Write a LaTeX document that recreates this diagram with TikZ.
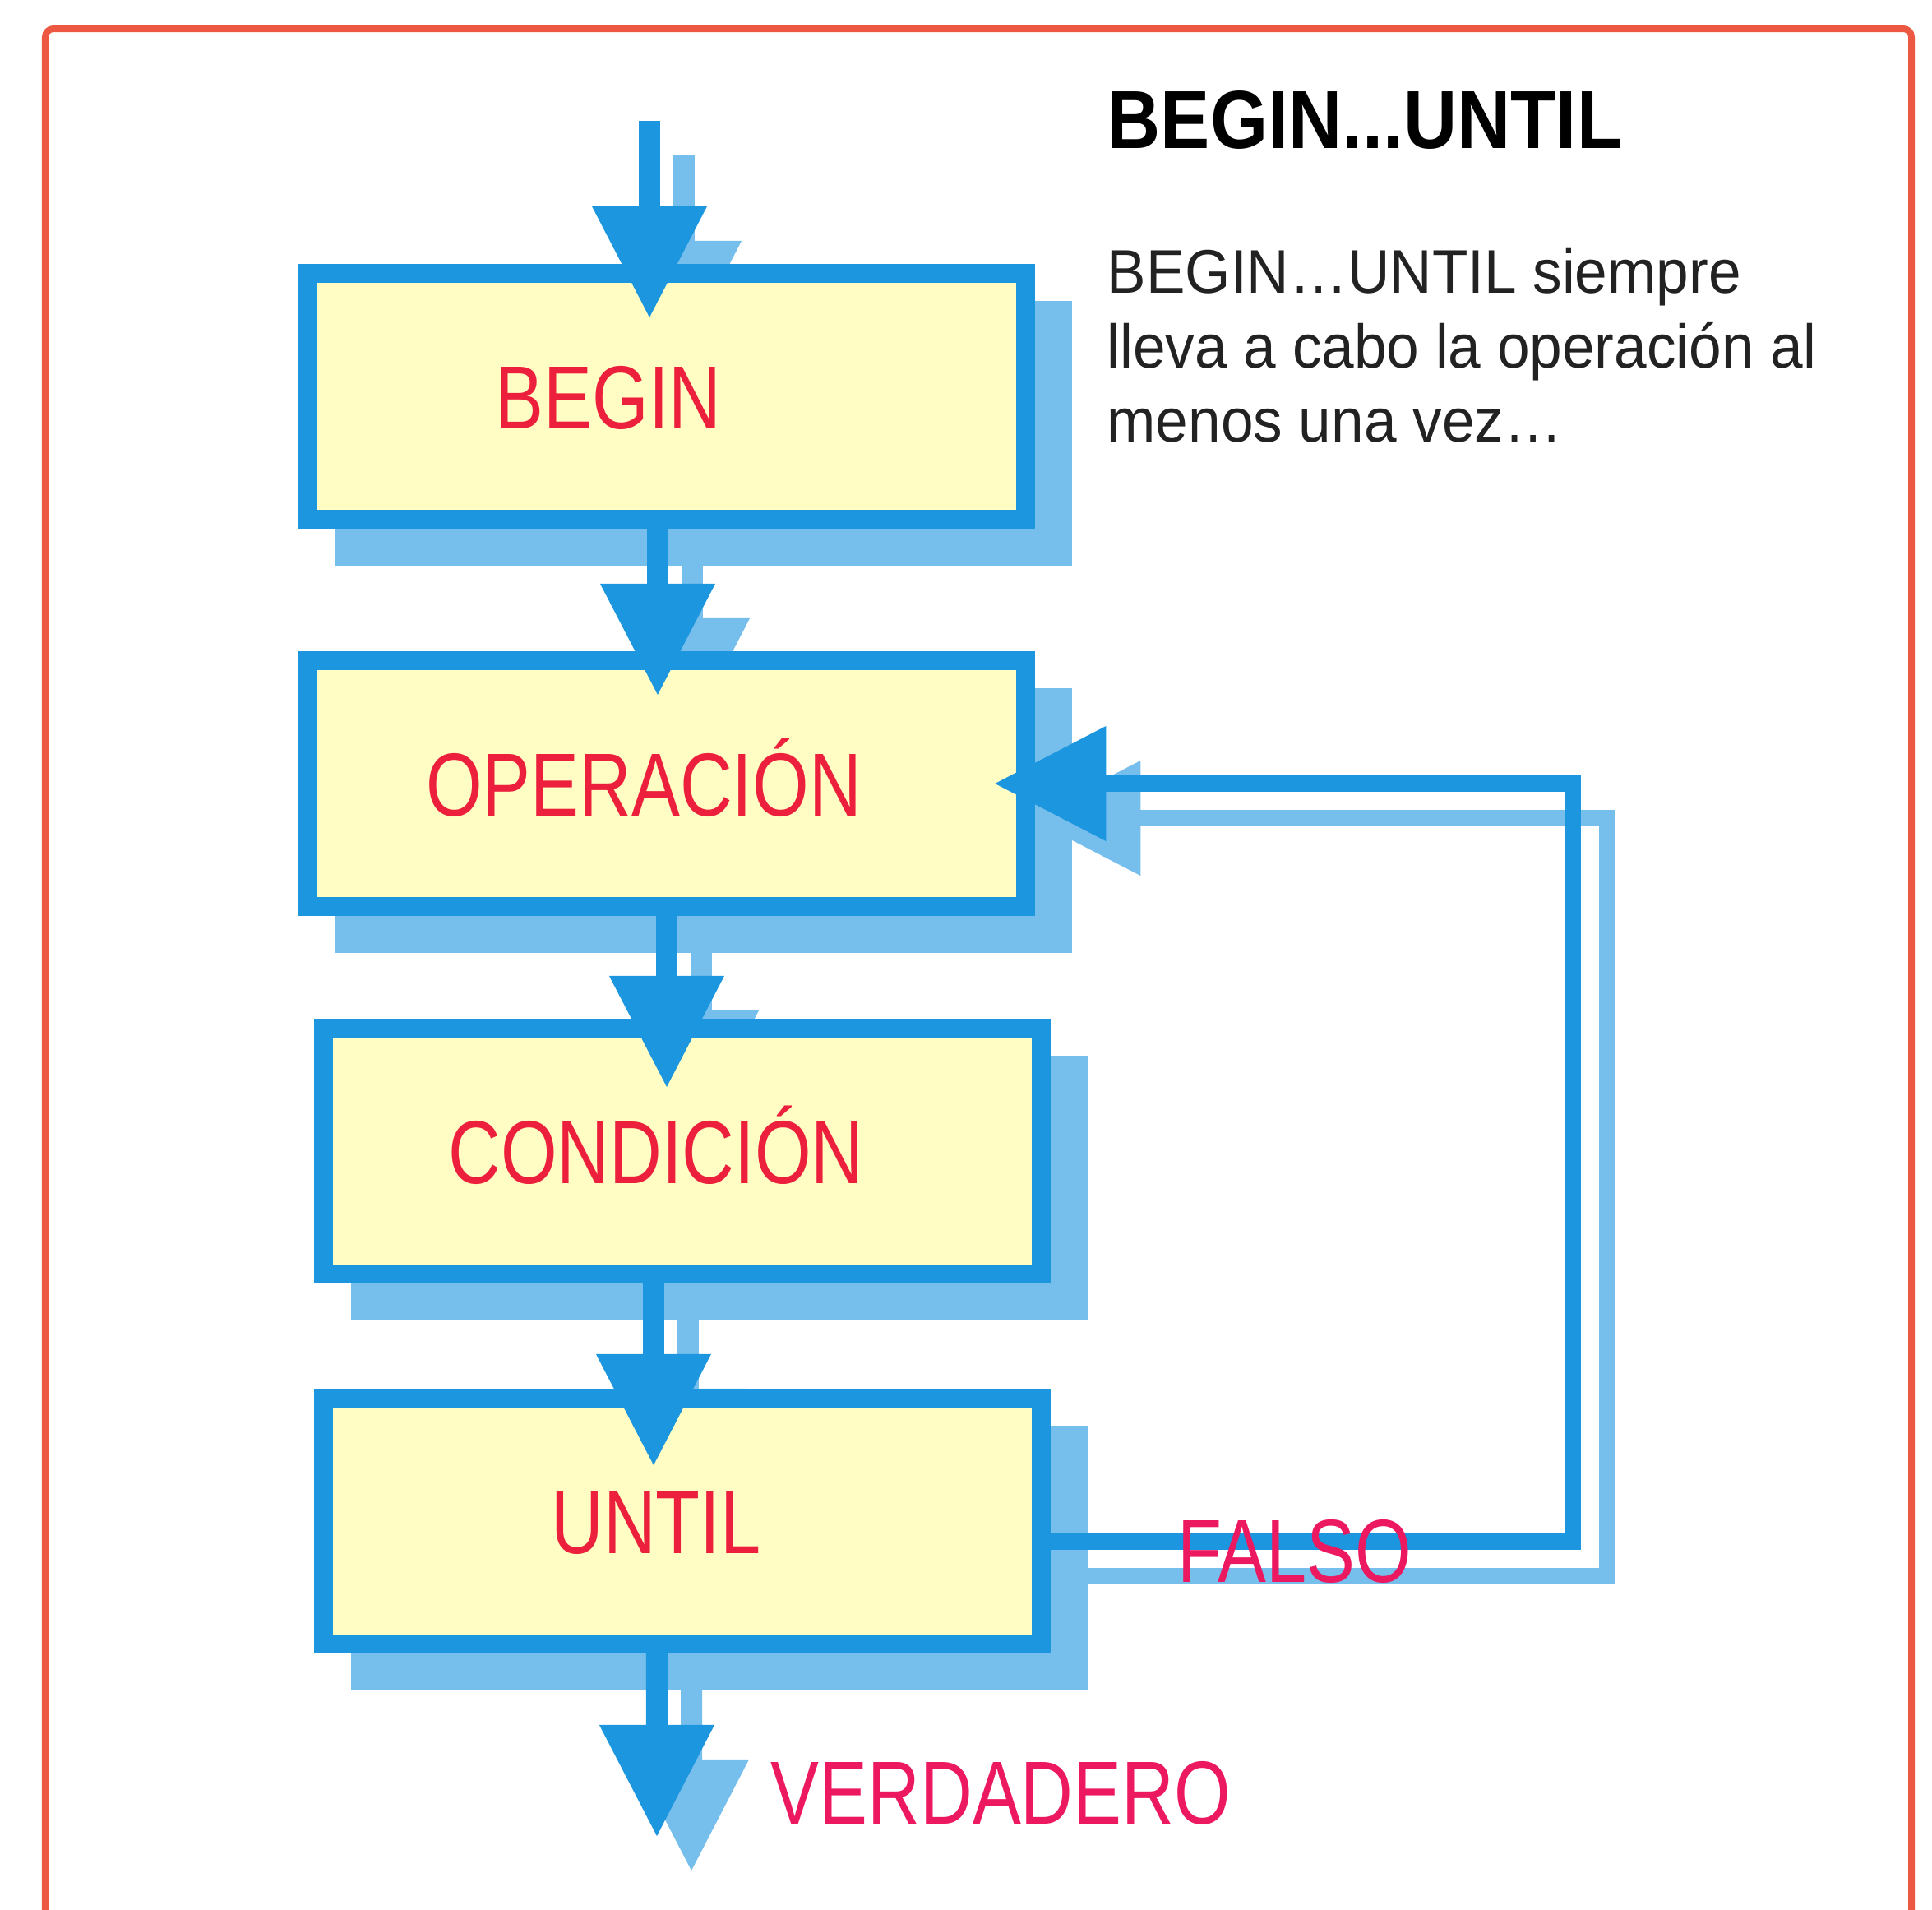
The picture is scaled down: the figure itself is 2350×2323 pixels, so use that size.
\documentclass[tikz,border=0pt]{standalone}
\usepackage{fontspec}
\setmainfont{Liberation Sans}
\newfontfamily\narrowfont{Liberation Sans}[FakeStretch=0.81]
\newfontfamily\headfont{Liberation Sans}[FakeStretch=0.9]
\newfontfamily\notefont{Liberation Sans}[FakeStretch=0.95]
\usetikzlibrary{arrows.meta,shadows,backgrounds}
\definecolor{flowblue}{RGB}{28,150,222}
\definecolor{shadowblue}{RGB}{118,190,236}
\definecolor{boxyellow}{RGB}{255,252,196}
\definecolor{labelred}{RGB}{236,32,60}
\definecolor{answerpink}{RGB}{236,24,96}
\definecolor{framered}{RGB}{236,88,66}
\definecolor{notegray}{RGB}{34,34,34}

\tikzset{
  frame/.style={draw=framered, line width=0.08cm, rounded corners=0.1cm},
  stepbox/.style={draw=flowblue, fill=boxyellow, line width=0.23cm,
    minimum width=8.73cm, minimum height=2.99cm, inner sep=0pt,
    text=labelred, text height=0.78cm, text depth=0pt,
    font=\narrowfont\fontsize{31pt}{31pt}\selectfont,
    drop shadow={shadow xshift=0.45cm, shadow yshift=-0.45cm, opacity=1,
      fill=shadowblue, draw=shadowblue, line width=0.23cm}},
  flow/.style={draw=flowblue, line width=0.26cm,
    -{Triangle[length=1.35cm, width=1.4cm, line width=0pt]}},
  backline/.style={line width=0.2cm},
  flowshadow/.style={flow, draw=shadowblue},
  answer/.style={inner sep=0pt, text=answerpink,
    font=\narrowfont\fontsize{31pt}{31pt}\selectfont},
  headline/.style={anchor=base west, inner sep=0pt,
    font=\headfont\bfseries\fontsize{28.5pt}{30pt}\selectfont},
  note/.style={anchor=north west, inner sep=0pt, align=left, text=notegray,
    font=\notefont\fontsize{21.3pt}{25.6pt}\selectfont}
}

\begin{document}
\begin{tikzpicture}[x=0.01cm, y=-0.01cm]
  \useasboundingbox (0,0) rectangle (2350,2323);
  % Frame
  \draw[frame] (55,2323) -- (55,35) -- (2325,35) -- (2325,2323);

  % Heading and note
  \node[headline] (title) at (1346,180) {BEGIN...UNTIL};
  \node[note] (note) at (1346,302) {BEGIN…UNTIL siempre\\lleva a cabo la operación al\\menos una vez…};

  % Steps
  \node[stepbox] (begin) at (811,482)  {BEGIN\hspace*{1.42cm}};
  \node[stepbox] (oper)  at (811,953)  {OPERACIÓN\hspace*{0.56cm}};
  \node[stepbox] (cond)  at (830,1400) {CONDICIÓN\hspace*{0.64cm}};
  \node[stepbox] (until) at (830,1850) {UNTIL\hspace*{0.64cm}};

  \coordinate (entry) at (790,147);
  \coordinate (exit)  at (799,2233);
  \coordinate (back)  at (1913,953);

  % Shadows of the flow lines
  \begin{pgfonlayer}{background}
  \begin{scope}[transform canvas={shift={(0.42cm,-0.42cm)}}]
    \draw[flowshadow, shorten >=-0.65cm] (entry) -- (entry |- begin.north);
    \draw[flowshadow, shorten >=-0.53cm] ([xshift=-0.11cm]begin.south) -- ([xshift=-0.11cm]oper.north);
    \draw[flowshadow, shorten >=-0.83cm] (oper.south) -- (oper.south |- cond.north);
    \draw[flowshadow, shorten >=-0.93cm] ([xshift=-0.35cm]cond.south) -- ([xshift=-0.35cm]until.north);
    \draw[flowshadow] ([xshift=-0.31cm]until.south) -- (exit);
    \draw[flowshadow, backline, shorten >=-0.49cm] ([yshift=-0.25cm]until.east) -| (back) -- (oper.east);
  \end{scope}
  \end{pgfonlayer}

  % Flow lines
  \draw[flow, shorten >=-0.65cm] (entry) -- (entry |- begin.north);
  \draw[flow, shorten >=-0.53cm] ([xshift=-0.11cm]begin.south) -- ([xshift=-0.11cm]oper.north);
  \draw[flow, shorten >=-0.83cm] (oper.south) -- (oper.south |- cond.north);
  \draw[flow, shorten >=-0.93cm] ([xshift=-0.35cm]cond.south) -- ([xshift=-0.35cm]until.north);
  \draw[flow] ([xshift=-0.31cm]until.south) -- (exit);
  \draw[flow, backline, shorten >=-0.49cm] ([yshift=-0.25cm]until.east) -| (back) -- (oper.east);

  % Answers
  \node[answer] (falso) at (1575,1887) {FALSO};
  \node[answer, anchor=west] (verdadero) at (937,2181) {VERDADERO};
\end{tikzpicture}
\end{document}
